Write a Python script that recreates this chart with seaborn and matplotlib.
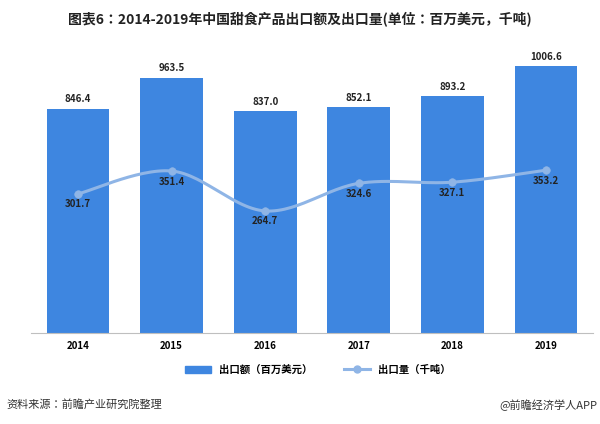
import numpy as np
import pandas as pd
import seaborn as sns
import matplotlib.pyplot as plt
from matplotlib import font_manager
from matplotlib.patches import Patch
from matplotlib.lines import Line2D

# register CJK font files; prefer a Sans SC face
cjk_names = []
for f in font_manager.findSystemFonts():
    if 'cjk' in f.lower():
        try:
            font_manager.fontManager.addfont(f)
            cjk_names.append(font_manager.FontProperties(fname=f).get_name())
        except Exception:
            pass
sans = [n for n in cjk_names if 'Sans' in n]
pick = [n for n in sans if 'SC' in n] or sans or ['Noto Sans CJK SC']
plt.rcParams['font.family'] = [pick[0], 'DejaVu Sans']

years = ['2014', '2015', '2016', '2017', '2018', '2019']
export_value = [846.4, 963.5, 837.0, 852.1, 893.2, 1006.6]
export_volume = [301.7, 351.4, 264.7, 324.6, 327.1, 353.2]

bar_color = '#3e86e0'
line_color = '#8fb5e6'

df = pd.DataFrame({'year': years, 'value': export_value, 'volume': export_volume})

fig = plt.figure(figsize=(6, 4.24), dpi=100)
ax = fig.add_axes([0.052, 0.215, 0.936, 0.643])
sns.barplot(data=df, x='year', y='value', color=bar_color, width=0.67, ax=ax, saturation=1)
ax.set_ylim(0, 1030)
ax.set_xlim(-0.5, 5.5)
for i, v in enumerate(export_value):
    ax.text(i, v + 18, f'{v:.1f}', ha='center', va='bottom', fontsize=7, fontweight='bold', color='#222222')

ax2 = ax.twinx()
ax2.set_ylim(0, 592)
# smooth curve through the points (Catmull-Rom)
x = np.arange(len(export_volume), dtype=float)
y = np.array(export_volume)
px = np.concatenate([[x[0]], x, [x[-1]]])
py = np.concatenate([[y[0]], y, [y[-1]]])
sx, sy = [], []
for k in range(1, len(px) - 2):
    t = np.linspace(0, 1, 30)
    for arr, out in ((px, sx), (py, sy)):
        p0, p1, p2, p3 = arr[k - 1], arr[k], arr[k + 1], arr[k + 2]
        out.extend(0.5 * (2 * p1 + (-p0 + p2) * t + (2 * p0 - 5 * p1 + 4 * p2 - p3) * t ** 2
                          + (-p0 + 3 * p1 - 3 * p2 + p3) * t ** 3))
ax2.plot(sx, sy, color=line_color, lw=2.2)
sns.scatterplot(x=x, y=y, color=line_color, s=30, edgecolor=line_color, ax=ax2, zorder=3)
for i, v in enumerate(export_volume):
    ax2.text(i, v - 12, f'{v:.1f}', ha='center', va='top', fontsize=7, fontweight='bold', color='#222222')

for a in (ax, ax2):
    for s in ('top', 'right', 'left'):
        a.spines[s].set_visible(False)
    a.set_yticks([])
    a.set_ylabel('')
ax2.spines['bottom'].set_visible(False)
ax.spines['bottom'].set_color('#bfbfbf')
ax.set_xlabel('')
ax.tick_params(axis='x', length=0, labelsize=7, pad=6)
for lbl in ax.get_xticklabels():
    lbl.set_fontweight('bold')

fig.text(0.5, 0.955, '图表6：2014-2019年中国甜食产品出口额及出口量(单位：百万美元，千吨)',
         ha='center', va='center', fontsize=10, fontweight='bold', color='#222222')

handles = [Patch(color=bar_color, label='出口额（百万美元）'),
           Line2D([0], [0], color=line_color, lw=2.2, marker='o', markersize=5, label='出口量（千吨）')]
fig.legend(handles=handles, loc='center', bbox_to_anchor=(0.53, 0.128), ncol=2, frameon=False,
           prop={'size': 7.5, 'weight': 'bold'}, handlelength=2.5, columnspacing=3)

fig.text(0.01, 0.045, '资料来源：前瞻产业研究院整理', fontsize=8, color='#333333', va='center')
fig.text(0.995, 0.045, '@前瞻经济学人APP', fontsize=8, color='#333333', va='center', ha='right')

fig.savefig('out.png', dpi=100)
